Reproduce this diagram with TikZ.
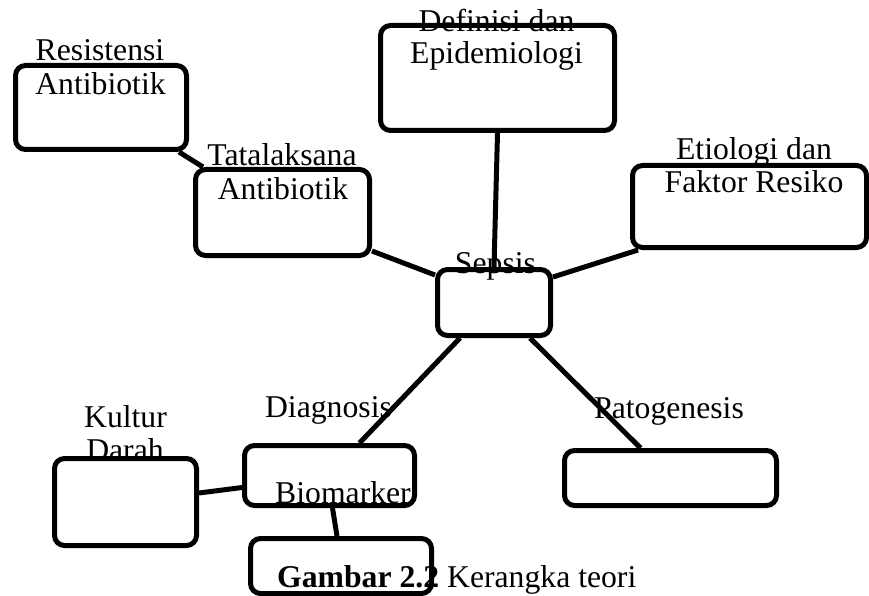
\documentclass[tikz,border=0pt]{standalone}
\usepackage{fontspec}
\setmainfont{Liberation Serif}
\begin{document}
\begin{tikzpicture}[x=1pt,y=-1pt,
  box/.style={draw=black, line width=5pt, rounded corners=10pt, inner sep=0pt, rectangle},
  lbl/.style={anchor=base, inner sep=0pt, font=\fontsize{31.7}{36}\selectfont},
  conn/.style={draw=black, line width=5pt}]
\useasboundingbox (0,0) rectangle (869,596);
% boxes
\node[box, minimum width=171pt, minimum height=84pt] (res) at (101,107.5) {};
\node[box, minimum width=174pt, minimum height=86pt] (tat) at (282.5,212.5) {};
\node[box, minimum width=234pt, minimum height=105pt] (def) at (497.5,78) {};
\node[box, minimum width=234pt, minimum height=82pt] (eti) at (749.5,206.5) {};
\node[box, minimum width=113pt, minimum height=66pt] (sep) at (494,302.5) {};
\node[box, minimum width=170pt, minimum height=60pt] (dia) at (329.5,475.5) {};
\node[box, minimum width=142pt, minimum height=87pt] (kul) at (125.5,502) {};
\node[box, minimum width=181pt, minimum height=55pt] (bio) at (341,566) {};
\node[box, minimum width=212pt, minimum height=55pt] (pat) at (670.5,478) {};
% labels
\node[lbl] (tres1) at (100,61) {Resistensi};
\node[lbl] (tres2) at (100.5,95) {Antibiotik};
\node[lbl] (ttat1) at (282,165) {Tatalaksana};
\node[lbl] (ttat2) at (283,199) {Antibiotik};
\node[lbl] (tdef1) at (496.5,32) {Definisi dan};
\node[lbl] (tdef2) at (496.5,64) {Epidemiologi};
\node[lbl] (teti1) at (754,160) {Etiologi dan};
\node[lbl] (teti2) at (754,193) {Faktor Resiko};
\node[lbl] (tsep) at (495.5,273) {Sepsis};
\node[lbl] (tdia) at (328.5,417) {Diagnosis};
\node[lbl] (tbio) at (343,503) {Biomarker};
\node[lbl] (tkul1) at (125.5,427) {Kultur};
\node[lbl] (tkul2) at (125,460) {Darah};
\node[lbl] (tpat) at (669,418) {Patogenesis};
\node[lbl, anchor=base west] (cap) at (277,587) {\textbf{Gambar 2.2} Kerangka teori};
% connectors
\draw[conn] ([xshift=-10pt]res.south east) -- ([xshift=10pt]tat.north west);
\draw[conn] ([yshift=7pt]tat.south east) -- ([yshift=-8pt]sep.north west);
\draw[conn] (def.south) -- (sep.north);
\draw[conn] ([xshift=8pt]eti.south west) -- ([yshift=-10pt]sep.north east);
\draw[conn] ([xshift=-34pt]sep.south) -- ([xshift=30pt]dia.north);
\draw[conn] ([xshift=36pt]sep.south) -- ([xshift=-30pt]pat.north);
\draw[conn] ([yshift=9pt]kul.east) -- ([yshift=-12pt]dia.west);
\draw[conn] ([xshift=3pt]dia.south) -- ([xshift=-4pt]bio.north);
\end{tikzpicture}
\end{document}
